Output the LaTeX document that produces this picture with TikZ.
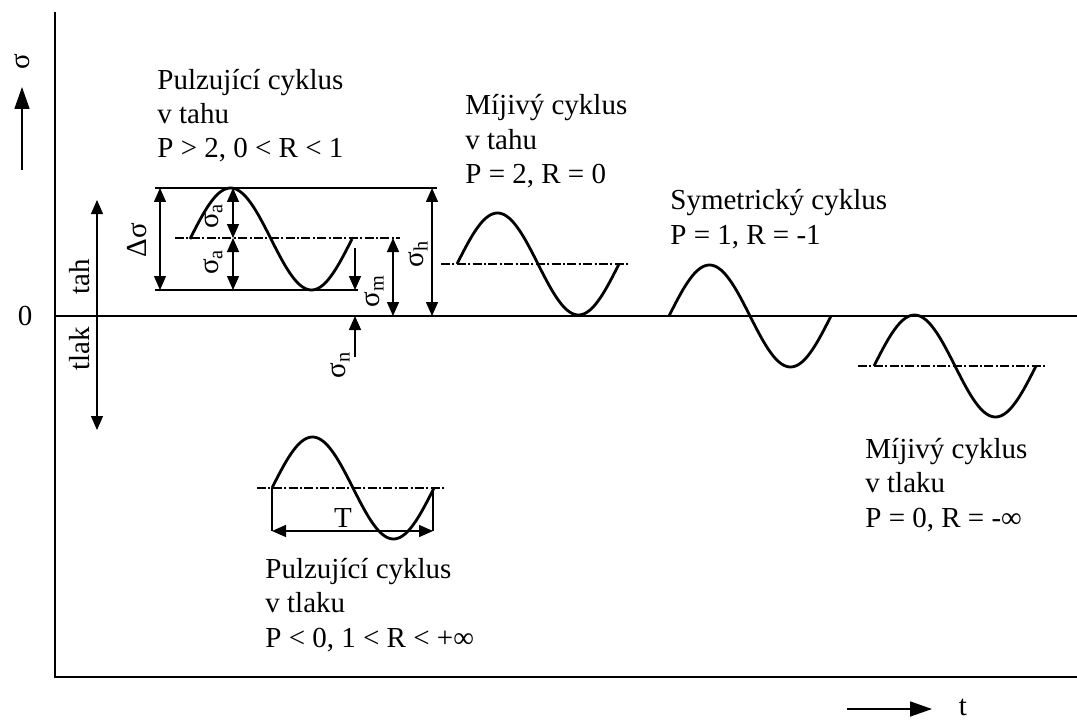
\documentclass[tikz,border=0pt]{standalone}
\usepackage{fontspec}
\setmainfont{Liberation Serif}
\usetikzlibrary{arrows.meta}
\newcommand{\sg}[1]{σ\textsubscript{#1}}

\begin{document}
\begin{tikzpicture}[
        x=0.5pt, y=-0.5pt,
        every node/.style={font=\fontsize{14.5}{17.25}\selectfont, inner sep=0pt},
        popis/.style={align=left, anchor=base west},
        svisly/.style={rotate=90},
        osa/.style={line width=0.8pt},
        smer/.style={line width=0.8pt, -{Triangle[length=11pt,width=7.5pt]}},
        vlna/.style={line width=1.4pt, line join=round},
        stred/.style={line width=0.6pt, dash pattern=on 4.5pt off 1.2pt on 1pt off 1.2pt},
        kota/.style={line width=0.7pt, <->},
        >={Triangle[length=7pt,width=6pt]}
    ]
    \useasboundingbox (0,0) rectangle (1077,722);

    %--------------------------------
    % osy
    %--------------------------------
    \draw[osa] (55,12) -- (55,677) -- (1077,677);
    \draw[osa] (55,316) -- (1077,316);
    \node (nula) at (25,316) {0};
    \node[svisly] (sigma) at (22,62) {σ};
    \draw[smer] (22,170) -- (22,87);
    \node (cas) at (963,707) {t};
    \draw[smer] (847,709) -- (932,709);

    \draw[kota] (97,200) -- (97,430);
    \node[svisly] (tah) at (80,277) {tah};
    \node[svisly] (tlak) at (80,349) {tlak};

    %--------------------------------
    % cykly
    %--------------------------------
    \foreach \xs/\m in {190/239, 457/264, 669/316, 874/366, 272/488}
        \draw[vlna] plot[domain=0:360, samples=73, smooth] ({\xs+\x*0.45}, {\m-51*sin(\x)});

    \draw[stred] (175,238) -- (400,238);
    \draw[stred] (441,264) -- (629,264);
    \draw[stred] (858,366) -- (1046,366);
    \draw[stred] (257,488) -- (446,488);

    %--------------------------------
    % kotovani
    %--------------------------------
    \draw[osa] (155,188) -- (437,188);
    \draw[osa] (155,290) -- (358,290);
    \draw[kota] (160,188) -- (160,290);
    \node[svisly] (dsigma) at (137,240) {Δσ};
    \draw[kota] (233,188) -- (233,238);
    \draw[kota] (233,238) -- (233,290);
    \node[svisly] (sa1) at (213,216) {\sg{a}};
    \node[svisly] (sa2) at (213,262) {\sg{a}};
    \draw[kota] (393,238) -- (393,316);
    \node[svisly] (sm) at (374,291) {\sg{m}};
    \draw[kota] (432,188) -- (432,316);
    \node[svisly] (sh) at (418,254) {\sg{h}};
    \draw[osa,->] (355,248) -- (355,290);
    \draw[osa,->] (355,357) -- (355,316);
    \node[svisly] (sn) at (340,365) {\sg{n}};

    \draw[osa] (272,488) -- (272,531);
    \draw[osa] (433,488) -- (433,531);
    \draw[kota] (272,531) -- (433,531);
    \node[anchor=base] (perioda) at (343,527) {T};

    %--------------------------------
    % popisy
    %--------------------------------
    \node[popis] (pt) at (157,158) {Pulzující cyklus\\v tahu\\P > 2, 0 < R < 1};
    \node[popis] (mt) at (465,184) {Míjivý cyklus\\v tahu\\P = 2, R = 0};
    \node[popis] (sc) at (670,244) {Symetrický cyklus\\P = 1, R = -1};
    \node[popis] (ml) at (865,527) {Míjivý cyklus\\v tlaku\\P = 0, R = -∞};
    \node[popis] (pl) at (265,647) {Pulzující cyklus\\v tlaku\\P < 0, 1 < R < +∞};

\end{tikzpicture}
\end{document}
